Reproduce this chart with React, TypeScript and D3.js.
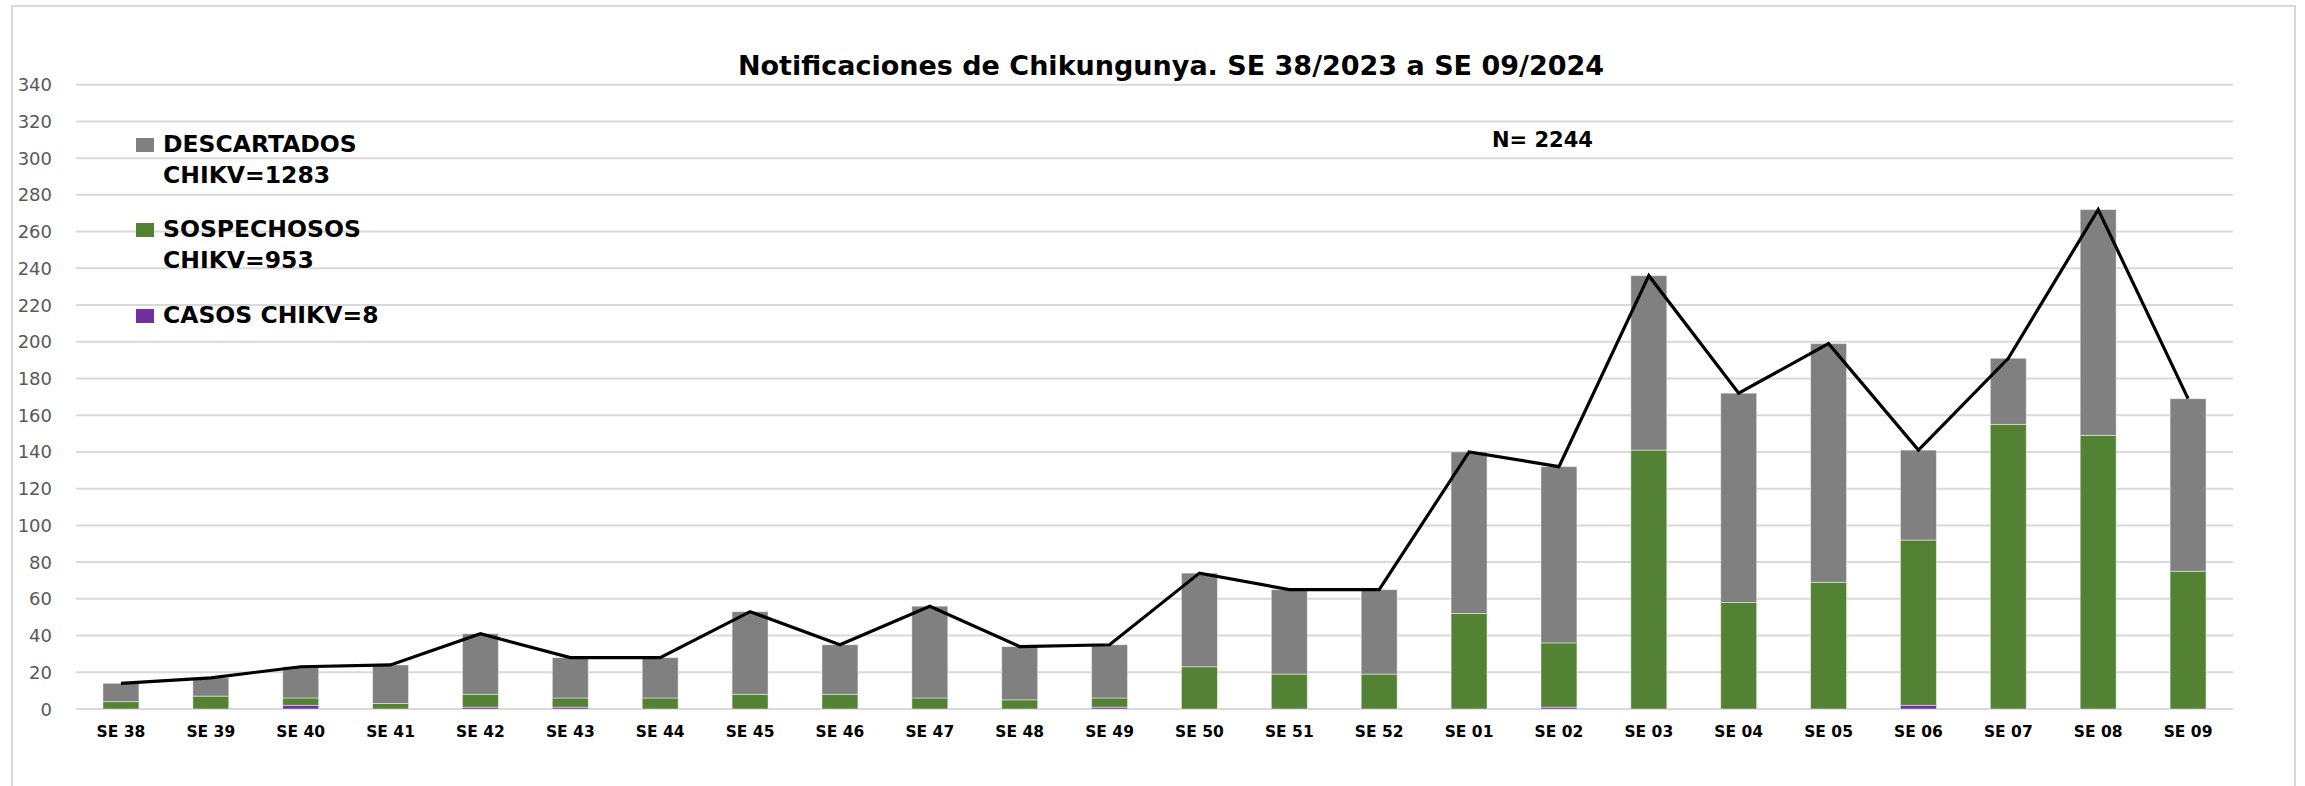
import { useEffect, useRef } from 'react';
import * as d3 from 'd3';

// semanas epidemiologicas
const weeks = [
  'SE 38', 'SE 39', 'SE 40', 'SE 41', 'SE 42', 'SE 43', 'SE 44', 'SE 45',
  'SE 46', 'SE 47', 'SE 48', 'SE 49', 'SE 50', 'SE 51', 'SE 52', 'SE 01',
  'SE 02', 'SE 03', 'SE 04', 'SE 05', 'SE 06', 'SE 07', 'SE 08', 'SE 09',
];
const casos = [0, 0, 2, 0, 1, 1, 0, 0, 0, 0, 0, 1, 0, 0, 0, 0, 1, 0, 0, 0, 2, 0, 0, 0];
const sospechosos = [4, 7, 4, 3, 7, 5, 6, 8, 8, 6, 5, 5, 23, 19, 19, 52, 35, 141, 58, 69, 90, 155, 149, 75];
const descartados = [10, 10, 17, 21, 33, 22, 22, 45, 27, 50, 29, 29, 51, 46, 46, 88, 96, 95, 114, 130, 49, 36, 123, 94];
const yTicks = d3.range(0, 341, 20);

const legendItems = [
  { lines: ['DESCARTADOS', 'CHIKV=1283'], color: '#808080' },
  { lines: ['SOSPECHOSOS', 'CHIKV=953'], color: '#548235' },
  { lines: ['CASOS CHIKV=8'], color: '#7030a0' },
];

const W = 2305;
const H = 786;
const FONT = "'DejaVu Sans', sans-serif";

function ChikvChart() {
  const svgRef = useRef<SVGSVGElement | null>(null);

  useEffect(() => {
    if (!svgRef.current) return;
    const svg = d3.select(svgRef.current);
    svg.selectAll('*').remove();

    const left = 76, right = 2233, top = 84.7, bottom = 709;

    const x = d3.scaleBand<string>().domain(weeks).range([left, right]).paddingInner(0.6).paddingOuter(0.3);
    const y = d3.scaleLinear().domain([0, 340]).range([bottom, top]);

    // chart frame
    svg.append('rect')
      .attr('x', 12).attr('y', 6)
      .attr('width', 2295 - 12).attr('height', 800)
      .attr('fill', 'white')
      .attr('stroke', '#d9d9d9')
      .attr('stroke-width', 2);

    // gridlines + y labels
    svg.append('g')
      .selectAll('line')
      .data(yTicks)
      .join('line')
      .attr('x1', left).attr('x2', right)
      .attr('y1', d => y(d)).attr('y2', d => y(d))
      .attr('stroke', '#d9d9d9')
      .attr('stroke-width', 2);

    svg.append('g')
      .selectAll('text')
      .data(yTicks)
      .join('text')
      .attr('x', 52)
      .attr('y', d => y(d) + 6.5)
      .attr('text-anchor', 'end')
      .attr('font-family', FONT)
      .attr('font-size', 18)
      .attr('fill', '#595959')
      .text(d => d);

    // stacked bars: casos at bottom, then sospechosos, then descartados
    const rows = weeks.map((w, i) => ({ week: w, casos: casos[i], sospechosos: sospechosos[i], descartados: descartados[i] }));
    const keys = ['casos', 'sospechosos', 'descartados'];
    const colors: Record<string, string> = { casos: '#7030a0', sospechosos: '#548235', descartados: '#808080' };
    const stacked = d3.stack<any>().keys(keys)(rows);

    svg.append('g')
      .selectAll('g')
      .data(stacked)
      .join('g')
      .attr('fill', d => colors[d.key])
      .selectAll('rect')
      .data(d => d.filter(s => s[1] > s[0]))
      .join('rect')
      .attr('x', d => x(d.data.week)!)
      .attr('width', x.bandwidth())
      .attr('y', d => y(d[1]))
      .attr('height', d => y(d[0]) - y(d[1]))
      .attr('stroke', 'rgba(255,255,255,0.45)')
      .attr('stroke-width', 1);

    // total line
    const totals = rows.map(r => ({ week: r.week, total: r.casos + r.sospechosos + r.descartados }));
    svg.append('path')
      .datum(totals)
      .attr('d', d3.line<{ week: string; total: number }>()
        .x(d => x(d.week)! + x.bandwidth() / 2)
        .y(d => y(d.total)))
      .attr('fill', 'none')
      .attr('stroke', 'black')
      .attr('stroke-width', 3.2)
      .attr('stroke-linejoin', 'miter');

    // x labels
    svg.append('g')
      .selectAll('text')
      .data(weeks)
      .join('text')
      .attr('x', d => x(d)! + x.bandwidth() / 2)
      .attr('y', 737)
      .attr('text-anchor', 'middle')
      .attr('font-family', FONT)
      .attr('font-weight', 'bold')
      .attr('font-size', 15.5)
      .attr('fill', '#000')
      .text(d => d);

    // title
    svg.append('text')
      .attr('x', 1171).attr('y', 75)
      .attr('text-anchor', 'middle')
      .attr('font-family', FONT)
      .attr('font-weight', 'bold')
      .attr('font-size', 27)
      .text('Notificaciones de Chikungunya. SE 38/2023 a SE 09/2024');

    svg.append('text')
      .attr('x', 1492).attr('y', 147)
      .attr('font-family', FONT)
      .attr('font-weight', 'bold')
      .attr('font-size', 21)
      .text('N= 2244');

    // legend
    const legendY = [152, 237, 323];
    legendItems.forEach((item, i) => {
      svg.append('rect')
        .attr('x', 136).attr('y', legendY[i] - 14)
        .attr('width', 18).attr('height', 14)
        .attr('fill', item.color);
      item.lines.forEach((line, j) => {
        svg.append('text')
          .attr('x', 163).attr('y', legendY[i] + j * 31)
          .attr('font-family', FONT)
          .attr('font-weight', 'bold')
          .attr('font-size', 23.5)
          .text(line);
      });
    });

    return () => { svg.selectAll('*').remove(); };
  }, []);

  return <svg ref={svgRef} width={W} height={H} style={{ position: 'absolute', left: 0, top: 0, display: 'block' }} />;
}

export default function App() {
  return <ChikvChart />;
}
